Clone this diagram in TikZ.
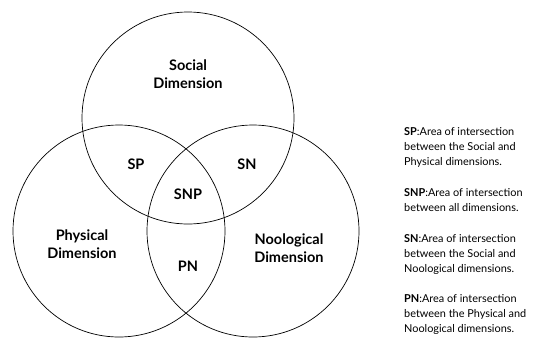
\documentclass[tikz,border=0pt]{standalone}
\usepackage{fontspec}
\setmainfont{Lato}
\usepackage{tikz}
\usetikzlibrary{positioning}

\begin{document}
\begin{tikzpicture}[
            x=1pt, y=-1pt,
            dimension/.style={
                circle,
                draw,
                line width=0.7pt,
                minimum size=212pt,
                inner sep=0pt
            },
            label/.style={
                font=\fontsize{14.5}{18.5}\selectfont\bfseries,
                align=center
            },
            legend/.style={
                font=\fontsize{10.9}{15}\selectfont,
                align=left,
                anchor=north west,
                inner sep=0pt
            }
        ]
        \useasboundingbox (0,0) rectangle (534,338);

        % The three dimensions
        \node[dimension] (social) at (188,118) {};
        \node[dimension] (physical) at (119,231) {};
        \node[dimension] (noological) at (253,231) {};

        % Names of the dimensions
        \node[label] (social-name) at (188,74) {Social\\Dimension};
        \node[label] (physical-name) at (82,244) {Physical\\Dimension};
        \node[label] (noological-name) at (289,248) {Noological\\Dimension};

        % Intersections
        \node[label] (sp) at (136,164) {SP};
        \node[label] (sn) at (247,164) {SN};
        \node[label] (snp) at (188,194) {SNP};
        \node[label] (pn) at (188,266) {PN};

        % Legend
        \node[legend] (leg-sp) at (404,127) {
            \textbf{SP}:Area of intersection\\
            between the Social and\\
            Physical dimensions.
        };
        \node[legend] (leg-snp) at (404,188) {
            \textbf{SNP}:Area of intersection\\
            between all dimensions.
        };
        \node[legend] (leg-sn) at (404,234) {
            \textbf{SN}:Area of intersection\\
            between the Social and\\
            Noological dimensions.
        };
        \node[legend] (leg-pn) at (404,294) {
            \textbf{PN}:Area of intersection\\
            between the Physical and\\
            Noological dimensions.
        };
\end{tikzpicture}
\end{document}
